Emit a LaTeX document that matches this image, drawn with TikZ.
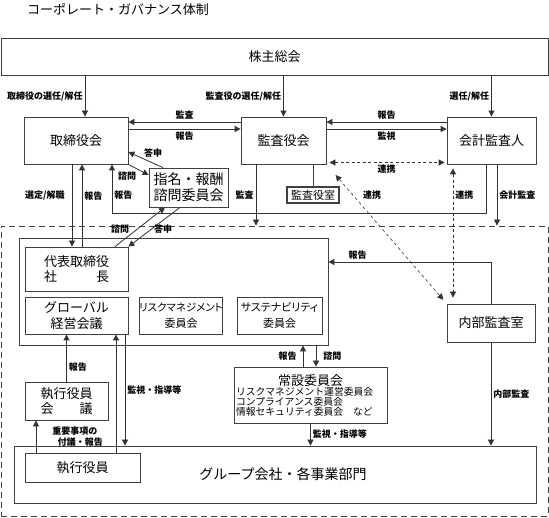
\documentclass[tikz,border=0pt]{standalone}
\usepackage{fontspec}
\setmainfont{Noto Sans CJK JP}
\newfontfamily\jpprop{Noto Sans CJK JP}[CharacterWidth=AlternateProportional]
\usetikzlibrary{arrows.meta}
\usetikzlibrary{calc}

\tikzset{
  box/.style={draw=black!75, line width=0.8pt, inner sep=0pt, align=center, font=\fontsize{13pt}{15.5pt}\selectfont},
  lbl/.style={font=\fontsize{9pt}{10.5pt}\selectfont\bfseries, inner sep=2pt},
  arr/.style={draw=black!80, line width=0.8pt, -{Triangle[length=6pt,width=6pt]}},
  link/.style={draw=black!80, line width=0.8pt, dash pattern=on 3pt off 2.5pt, {Triangle[length=6pt,width=6pt]}-{Triangle[length=6pt,width=6pt]}},
  wire/.style={draw=black!75, line width=0.8pt}
}

\begin{document}
\begin{tikzpicture}[x=1pt,y=-1pt]
\useasboundingbox (0,0) rectangle (549,518);
\node[anchor=west, inner sep=0pt, font=\fontsize{13pt}{15pt}\selectfont] (title) at (27,9) {コーポレート・ガバナンス体制};

% boxes
\node[box, minimum width=547pt, minimum height=37pt] (soukai) at (274.5,56.5) {株主総会};
\node[box, minimum width=104pt, minimum height=47pt] (tb) at (76,140.5) {取締役会};
\node[box, minimum width=85pt, minimum height=47pt] (kyk) at (283.5,140.5) {監査役会};
\node[box, minimum width=89pt, minimum height=47pt] (kk) at (491.5,140.5) {会計監査人};
\node[box, line width=1.3pt, minimum width=52pt, minimum height=16pt, font=\fontsize{11pt}{13pt}\selectfont] (kss) at (313,195) {監査役室};
\node[box, minimum width=79pt, minimum height=39pt, font=\fontsize{14pt}{16pt}\selectfont] (shimei) at (188.5,187.5) {指名・報酬\\諮問委員会};
\node[draw=black!75, line width=0.8pt, dash pattern=on 6pt off 4pt, minimum width=547pt, minimum height=290pt] (outer) at (274.5,371) {};
\node[box, minimum width=309pt, minimum height=107pt] (exec) at (173.5,291.5) {};
\node[box, minimum width=103pt, minimum height=44pt] (daihyo) at (76.5,269) {代表取締役\\社\hspace{3em}長};
\node[box, minimum width=103pt, minimum height=37pt] (global) at (76.5,315.5) {グローバル\\経営会議};
\node[box, minimum width=82pt, minimum height=37pt, font=\fontsize{11pt}{16pt}\selectfont] (risk) at (181,315.5) {{\jpprop\fontsize{10.5pt}{16pt}\selectfont リスクマネジメント}\\委員会};
\node[box, minimum width=85pt, minimum height=37pt, font=\fontsize{11pt}{16pt}\selectfont] (sus) at (279.5,315.5) {{\jpprop\fontsize{11pt}{16pt}\selectfont サステナビリティ}\\委員会};
\node[box, minimum width=88pt, minimum height=38pt] (naibu) at (491,323) {内部監査室};
\node[box, minimum width=153pt, minimum height=56pt, text width=149pt] (jousetsu) at (310.5,395)
  {\centering{\fontsize{13pt}{15pt}\selectfont 常設委員会}\par\raggedright\fontsize{9.8pt}{10pt}\selectfont リスクマネジメント運営委員会\\コンプライアンス委員会\\情報セキュリティ委員会　など\par};
\node[box, minimum width=83pt, minimum height=38pt] (skaigi) at (66.5,401) {執行役員\\会\hspace{2em}議};
\node[box, minimum width=522pt, minimum height=57pt,
  label={[font=\fontsize{14pt}{16pt}\selectfont, xshift=8pt]center:グループ会社・各事業部門}] (group) at (275,474.5) {};
\node[box, minimum width=115pt, minimum height=29pt] (shikkou) at (82.5,467.5) {執行役員};

% shareholders meeting
\draw[arr] ([xshift=9pt]tb.north |- soukai.south) -- node[lbl,left]{取締役の選任/解任} ([xshift=9pt]tb.north);
\draw[arr] (kyk.north |- soukai.south) -- node[lbl,left]{監査役の選任/解任} (kyk.north);
\draw[arr] (kk.north |- soukai.south) -- node[lbl,left]{選任/解任} (kk.north);

% board, audit board, auditor
\draw[arr] ([yshift=18.5pt]kyk.west) -- node[lbl,above]{監査} ([yshift=18.5pt]tb.east);
\draw[arr] ([yshift=11.5pt]tb.east) -- node[lbl,below]{報告} ([yshift=11.5pt]kyk.west);
\draw[arr] ([yshift=18.5pt]kk.west) -- node[lbl,above]{報告} ([yshift=18.5pt]kyk.east);
\draw[arr] ([yshift=11.5pt]kyk.east) -- node[lbl,below]{監視} ([yshift=11.5pt]kk.west);
\draw[link, shorten <=3pt, shorten >=2pt] ([yshift=-22pt]kyk.east) -- node[lbl,below]{連携} ([yshift=-22pt]kk.west);
\draw[wire] (kyk.south -| kss.north) -- (kss.north);
\draw[arr] ([xshift=-5.5pt]kk.south) |- ([xshift=36pt]tb.south |- 0,213) -- node[lbl,right,pos=0.37]{報告} ([xshift=36pt]tb.south);
\draw[arr] ([xshift=5.5pt]kk.south) -- node[lbl,right]{会計監査} ([xshift=5.5pt]kk.south |- outer.north);
\draw[arr] ([xshift=-27.5pt]kyk.south) -- node[lbl,left]{監査} ([xshift=-27.5pt]kyk.south |- outer.north);

% nomination and remuneration committee
\draw[arr] (tb.south east) -- node[lbl,below left]{諮問} ([yshift=12.5pt]shimei.west);
\draw[arr] ([xshift=-25.5pt]shimei.north) -- node[lbl,above right,xshift=-4pt]{答申} ([yshift=-11.5pt]tb.east);
\draw[arr] ([xshift=-4pt]tb.south) -- node[lbl,left=5pt,pos=0.38]{選定/解職} ([xshift=-4pt]tb.south |- daihyo.north);
\draw[arr] ([xshift=6pt]tb.south |- daihyo.north) -- node[lbl,right,pos=0.62]{報告} ([xshift=6pt]tb.south);
\draw[arr] ([xshift=38.5pt]daihyo.north) -- node[lbl,pos=0.45,left=6pt]{諮問} ([xshift=-23.5pt]shimei.south);
\draw[arr] ([xshift=-8.5pt]shimei.south) -- node[lbl,pos=0.55,right]{答申} (daihyo.north east);

% internal audit
\draw[arr] (naibu.north) |- node[lbl,pos=0.91,above]{報告} ([yshift=29.5pt]exec.east);
\draw[link, shorten <=4pt, shorten >=6pt] ([xshift=-38.5pt]kk.south) -- node[lbl,right,pos=0.22]{連携} ([xshift=-38pt]naibu.north);
\draw[link, line width=0.6pt, dash pattern=on 3pt off 3pt, shorten <=14pt, shorten >=5pt] (kyk.south east) -- node[lbl,pos=0.22,right=8pt]{連携} (naibu.north west);
\draw[arr] (naibu.south) -- node[lbl,right]{内部監査} (naibu.south |- group.north);

% standing committees
\draw[arr] ([xshift=5.5pt]jousetsu.north |- exec.south) -- node[lbl,right=5pt]{諮問} ([xshift=5.5pt]jousetsu.north);
\draw[arr] ([xshift=-7.5pt]jousetsu.north) -- node[lbl,left=4pt]{報告} ([xshift=-7.5pt]jousetsu.north |- exec.south);
\draw[arr] (jousetsu.south) -- node[lbl,right]{監視・指導等} (jousetsu.south |- group.north);

% executive officers
\draw[arr] (skaigi.north) -- node[lbl,right,pos=0.3]{報告} (skaigi.north |- global.south);
\draw[arr] ([xshift=-46.5pt]shikkou.north) -- node[lbl,right=14pt,align=left]{重要事項の\\\hspace{0.6em}付議・報告} ([xshift=-46.5pt]shikkou.north |- skaigi.south);
\draw[arr] ([xshift=33.5pt]shikkou.north) -- ([xshift=33.5pt]shikkou.north |- global.south);
\draw[arr] ([xshift=48.5pt]global.south) -- node[lbl,right]{監視・指導等} ([xshift=48.5pt]global.south |- group.north);
\end{tikzpicture}
\end{document}
